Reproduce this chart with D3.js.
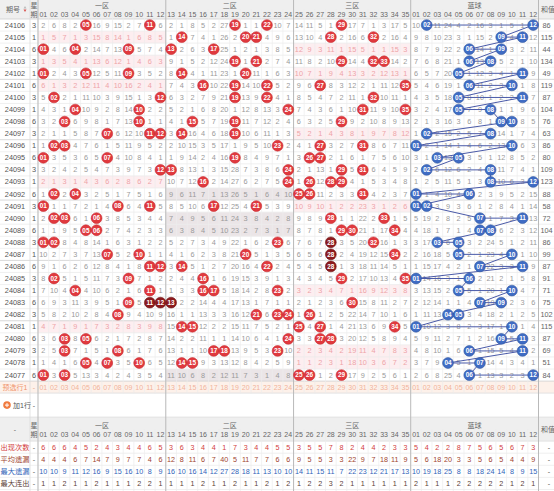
<!DOCTYPE html>
<html><head><meta charset="utf-8">
<script src="https://cdn.jsdelivr.net/npm/d3@7/dist/d3.min.js"></script>
<style>
html,body{margin:0;padding:0;background:#fff;}
svg{display:block;font-family:"Liberation Sans","Noto Sans CJK SC",Arial,sans-serif;}
</style></head><body>
<svg id="c" width="554" height="491"></svg>
<script>
// Draws, newest first
const issues = [24106,24105,24104,24103,24102,24101,24100,24099,24098,24097,
                24096,24095,24094,24093,24092,24091,24090,24089,24088,24087,
                24086,24085,24084,24083,24082,24081,24080,24079,24078,24077];
const weekdays = [3,1,6,3,1,6,3,1,6,3, 1,6,3,1,6,3,1,6,3,1, 6,3,1,6,3,1,6,3,1,6];
const frontDraws = [
  [5,11,19,22,29],[14,20,21,28,32],[1,4,9,13,17],[19,21,29,32,33],[1,5,9,14,20],
  [16,19,22,27,35],[2,12,19,22,32],[4,10,24,31,35],[3,10,15,19,29],[7,11,12,14,19],
  [2,3,23,27,31],[1,7,19,26,27],[12,13,24,29,31],[16,24,26,28,29],[2,4,25,26,31],
  [1,8,11,17,21],[2,3,6,28,33],[5,6,29,30,34],[1,2,23,28,32],[7,10,20,28,34],
  [11,12,14,22,28],[2,9,16,29,35],[4,11,16,17,23],[9,11,12,13,30],[8,21,23,24,26],
  [14,15,25,27,34],[3,5,24,27,28],[3,8,17,18,23],[5,7,10,14,15],[1,3,25,26,29]
];
const backDraws = [
  [2,12],[9,11],[6,9],[6,8],[5,11],[6,10],[5,11],[5,8],[9,10],[2,8],
  [1,10],[3,5],[2,8],[8,12],[1,6],[1,2],[7,11],[7,8],[3,5],[5,10],
  [7,11],[1,6],[5,10],[7,9],[4,5],[1,10],[9,11],[6,11],[4,7],[6,12]
];
// Omission counts carried into the oldest row (24077)
const frontStartMiss = [0,3,0,5,13,3,4,2,4,3,5,4, 11,10,6,8,2,12,11,7,3,1,4,8, 0,0,1,2,0,17,9,2,5,6,1];
const backStartMiss  = [2,6,8,25,4,0,1,13,3,2,3,0];

const frontLabels = ["01","02","03","04","05","06","07","08","09","10","11","12",
                     "13","14","15","16","17","18","19","20","21","22","23","24",
                     "25","26","27","28","29","30","31","32","33","34","35"];
const backLabels  = ["01","02","03","04","05","06","07","08","09","10","11","12"];
const zoneNames = ["一区","二区","三区","蓝球"];
const zoneSizes = [12,12,11,12];

// Long-run statistics
const avgMissFront = [4,4,4,6,7,14,7,9,7,7,4,6, 12,8,11,6,7,40,5,11,7,7,6,6, 9,5,5,3,3,22,9,7,18,11,9];
const avgMissBack  = [5,6,18,20,3,3,5,6,5,4,4,9];
const maxMissFront = [10,10,9,11,12,16,9,15,16,10,8,9, 16,10,16,14,12,27,28,18,11,13,10,10, 14,11,15,11,7,22,23,12,21,17,13];
const maxMissBack  = [10,19,18,25,8,8,18,24,14,8,9,15];
const statNames  = ["出现次数","平均遗漏","最大遗漏","最大连出"];

// ---------- derived tables ----------
const nRows = issues.length;
const cols = [];
frontLabels.forEach((l,i)=>cols.push({key:"f"+l,label:l,num:+l,back:false,zone:i<12?0:(i<24?1:2),idx:i}));
backLabels.forEach((l,i)=>cols.push({key:"b"+l,label:l,num:+l,back:true,zone:3,idx:i}));

function hitOf(r,c){ return c.back ? backDraws[r].includes(c.num) : frontDraws[r].includes(c.num); }

// omission per row/col, counted from the oldest row upward
const miss = issues.map(()=>({}));
cols.forEach(c=>{
  for(let r=nRows-1;r>=0;r--){
    if(hitOf(r,c)) miss[r][c.key]=0;
    else if(r===nRows-1) miss[r][c.key]= c.back?backStartMiss[c.idx]:frontStartMiss[c.idx];
    else miss[r][c.key]=miss[r+1][c.key]+1;
  }
});
// appearance count and longest run
const countOf={}, runOf={};
cols.forEach(c=>{
  let cnt=0,run=0,best=0;
  for(let r=0;r<nRows;r++){ if(hitOf(r,c)){cnt++;run++;best=Math.max(best,run);} else run=0; }
  countOf[c.key]=cnt; runOf[c.key]=best;
});
// emphasised balls: 3+ consecutive numbers in a row, or 3+ repeats down a column
function strongHit(r,c){
  if(c.back) return false;
  const d=frontDraws[r], n=c.num;
  let lo=n,hi=n; while(d.includes(lo-1))lo--; while(d.includes(hi+1))hi++;
  if(hi-lo+1>=3) return true;
  let a=r,b=r; while(a>0&&frontDraws[a-1].includes(n))a--; while(b<nRows-1&&frontDraws[b+1].includes(n))b++;
  return b-a+1>=3;
}

// ---------- scales ----------
const svg=d3.select("#c");
const rowTop=19, rowH=12.07;
const y=d3.scaleBand().domain(issues).range([rowTop,rowTop+nRows*rowH]);
const x=d3.scaleBand().domain(cols.map(c=>c.key)).range([38,538.5]);
const bottom=y.range()[1];
const preY=bottom, addY=preY+12, hdr2Y=addY+24, statY=hdr2Y+24, statH=12.1;
const cx=k=>x(k)+x.bandwidth()/2;
const zoneStart=z=>cols.find(c=>c.zone===z).key;
const zoneEnd=z=>cols.filter(c=>c.zone===z).slice(-1)[0].key;
const zoneL=z=>x(zoneStart(z)), zoneR=z=>x(zoneEnd(z))+x.bandwidth();

// header backgrounds
svg.append("rect").attr("x",0).attr("y",0).attr("width",554).attr("height",rowTop).attr("fill","#efefef");
svg.append("rect").attr("x",0).attr("y",hdr2Y).attr("width",554).attr("height",24).attr("fill","#efefef");
svg.append("rect").attr("x",0).attr("y",preY).attr("width",554).attr("height",12).attr("fill","#fdf1ea");

// zone shading for rows with no number in that zone
const shade=svg.append("g");
issues.forEach((iss,r)=>{
  [0,1,2].forEach(z=>{
    const any=cols.some(c=>c.zone===z&&hitOf(r,c));
    if(!any) shade.append("rect").attr("x",zoneL(z)).attr("y",y(iss)).attr("width",zoneR(z)-zoneL(z))
      .attr("height",rowH).attr("fill",z===1?"#ebe5e7":"#fdeef0");
  });
});

// grid
const grid=svg.append("g");
for(let i=0;i<=nRows;i++){
  const yy=rowTop+i*rowH;
  grid.append("line").attr("x1",0).attr("x2",554).attr("y1",yy).attr("y2",yy)
    .attr("stroke",i%5===0?"#cfcfcf":"#ececec").attr("stroke-width",0.8);
}
[preY+12,addY+24,hdr2Y+24].forEach(yy=>grid.append("line").attr("x1",0).attr("x2",554).attr("y1",yy).attr("y2",yy).attr("stroke","#dedede").attr("stroke-width",0.8));
for(let i=1;i<=4;i++){const yy=statY+i*statH;grid.append("line").attr("x1",0).attr("x2",554).attr("y1",yy).attr("y2",yy).attr("stroke","#ececec").attr("stroke-width",0.8);}
cols.forEach(c=>{
  grid.append("line").attr("x1",x(c.key)).attr("x2",x(c.key)).attr("y1",9).attr("y2",preY+12).attr("stroke","#ededed").attr("stroke-width",0.7);
  grid.append("line").attr("x1",x(c.key)).attr("x2",x(c.key)).attr("y1",hdr2Y+12).attr("y2",491).attr("stroke","#ededed").attr("stroke-width",0.7);
});
[30].forEach(xx=>grid.append("line").attr("x1",xx).attr("x2",xx).attr("y1",0).attr("y2",491).attr("stroke","#dcdcdc").attr("stroke-width",0.8));
[38,zoneR(0),zoneR(1),zoneR(2),zoneR(3)].forEach(xx=>grid.append("line").attr("x1",xx).attr("x2",xx).attr("y1",0).attr("y2",491).attr("stroke","#b9b9b9").attr("stroke-width",1));

// header text
const ht=svg.append("g").attr("fill","#666").attr("font-size",7).attr("text-anchor","middle");
function headerBlock(top){
  zoneNames.forEach((n,z)=>ht.append("text").attr("x",(zoneL(z)+zoneR(z))/2).attr("y",top+8).text(n));
  cols.forEach(c=>ht.append("text").attr("x",cx(c.key)).attr("y",top+17).text(c.label));
  ht.append("text").attr("x",34).attr("y",top+8).text("星");
  ht.append("text").attr("x",34).attr("y",top+17).text("期");
}
headerBlock(0);
headerBlock(hdr2Y+3);
ht.append("text").attr("x",13).attr("y",12).text("期号");
svg.append("path").attr("d","M23.5,9.5 l3,0 l-1.5,2.5z").attr("fill","#d9534f");
svg.append("path").attr("d","M23.5,8.5 l3,0 l-1.5,-2.5z").attr("fill","#bbb");
ht.append("text").attr("x",541).attr("y",12).attr("text-anchor","start").text("和值");
ht.append("text").attr("x",541).attr("y",hdr2Y+15).attr("text-anchor","start").text("和值");
ht.append("text").attr("x",15).attr("y",hdr2Y+15).text("-");

// data rows
const body=svg.append("g").attr("font-size",7.3).attr("text-anchor","middle");
issues.forEach((iss,r)=>{
  const yc=y(iss)+rowH/2+2.5;
  body.append("text").attr("x",15).attr("y",yc).attr("fill","#555").text(iss);
  body.append("text").attr("x",34).attr("y",yc).attr("fill","#555").text(weekdays[r]);
  const sum=d3.sum(frontDraws[r]);
  body.append("text").attr("x",546.5).attr("y",yc).attr("fill","#666").text(sum);
  cols.forEach(c=>{
    if(hitOf(r,c)) return;
    const z=c.zone, any=z<3&&cols.some(k=>k.zone===z&&hitOf(r,k));
    const pink=(z===0||z===2)&&!any;
    body.append("text").attr("x",cx(c.key)).attr("y",yc)
      .attr("fill",pink?"#eda4a8":"#9a9a9a").text(miss[r][c.key]);
  });
});

// blue-ball trail
const trail=[];
issues.forEach((iss,r)=>backDraws[r].forEach(n=>trail.push([cx("b"+backLabels[n-1]),y(iss)+rowH/2])));
svg.append("path").attr("d",d3.line()(trail)).attr("fill","none").attr("stroke","#4a5aa8").attr("stroke-width",1);

// balls
const balls=svg.append("g");
issues.forEach((iss,r)=>{
  cols.forEach(c=>{
    if(!hitOf(r,c)) return;
    const xc=cx(c.key), yc=y(iss)+rowH/2;
    const fill=c.back?"#3f6cc4":(strongHit(r,c)?"#8c1a1d":"#e0393e");
    balls.append("circle").attr("cx",xc).attr("cy",yc).attr("r",5.4).attr("fill",fill)
      .attr("stroke",c.back?"#2f55a0":(strongHit(r,c)?"#6e1214":"#c72c31")).attr("stroke-width",0.6);
    balls.append("text").attr("x",xc).attr("y",yc+2.3).attr("text-anchor","middle").attr("font-size",6.4)
      .attr("font-weight","bold").attr("fill","#fff").text(c.label);
  });
});

// preview row
const pre=svg.append("g").attr("font-size",7).attr("text-anchor","middle");
pre.append("text").attr("x",15).attr("y",preY+8.5).attr("fill","#f0956a").text("预选行1");
pre.append("text").attr("x",34).attr("y",preY+8.5).attr("fill","#e9a98a").text("-");
cols.forEach(c=>pre.append("text").attr("x",cx(c.key)).attr("y",preY+8.5).attr("fill","#f1b39a").text(c.label));

// add-row line
svg.append("circle").attr("cx",7).attr("cy",addY+12).attr("r",3.8).attr("fill","#f07b3f");
svg.append("path").attr("d",`M5,${addY+12} h4 M7,${addY+10} v4`).attr("stroke","#fff").attr("stroke-width",1);
svg.append("text").attr("x",13).attr("y",addY+14.5).attr("font-size",7).attr("fill","#555").text("加1行");
svg.append("text").attr("x",34).attr("y",addY+14.5).attr("font-size",7).attr("fill","#555").attr("text-anchor","middle").text("-");

// statistics
const statColors=["#d23b3b","#a0442e","#2f63b8","#5b4038"];
const statVals=[
  c=>countOf[c.key],
  c=>c.back?avgMissBack[c.idx]:avgMissFront[c.idx],
  c=>c.back?maxMissBack[c.idx]:maxMissFront[c.idx],
  c=>runOf[c.key]
];
const st=svg.append("g").attr("font-size",7.2).attr("text-anchor","middle");
statNames.forEach((n,i)=>{
  const yc=statY+i*statH+statH/2+2.5;
  st.append("text").attr("x",15).attr("y",yc).attr("fill",statColors[i]).text(n);
  st.append("text").attr("x",34).attr("y",yc).attr("fill","#555").text("-");
  st.append("text").attr("x",549).attr("y",yc).attr("fill","#555").text("-");
  cols.forEach(c=>st.append("text").attr("x",cx(c.key)).attr("y",yc).attr("fill",statColors[i]).text(statVals[i](c)));
});
</script>
</body></html>
